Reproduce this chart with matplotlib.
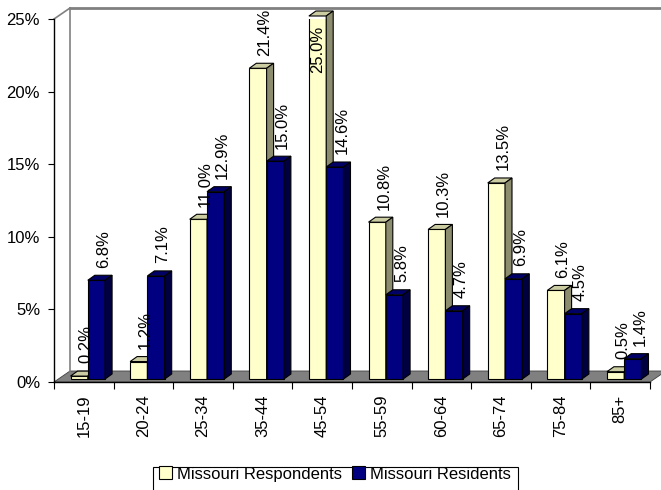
import matplotlib
matplotlib.use("Agg")
import matplotlib.pyplot as plt
from matplotlib.patches import Polygon, Rectangle, Patch

plt.rcParams['font.family'] = ['Liberation Sans', 'DejaVu Sans']

# data (percent)
age_groups = ['15-19', '20-24', '25-34', '35-44', '45-54',
              '55-59', '60-64', '65-74', '75-84', '85+']
respondents = [0.2, 1.2, 11.0, 21.4, 25.0, 10.8, 10.3, 13.5, 6.1, 0.5]
residents = [6.8, 7.1, 12.9, 15.0, 14.6, 5.8, 4.7, 6.9, 4.5, 1.4]

W, H = 661, 490
fig = plt.figure(figsize=(W / 100, H / 100), dpi=100)
# plot frame in pixels: x 54..650, y 382 (0%) .. 19 (25%)
ax = fig.add_axes([54 / W, (H - 382) / H, 596 / W, 363 / H])
ax.set_xlim(-0.5, 9.5)
ax.set_ylim(0, 25)

px_x = 596 / 10.0   # pixels per category
px_y = 363 / 25.0   # pixels per percent

# 3d depth of the walls / floor
wdx, wdy = 16 / px_x, 11 / px_y
# bars sit mid-depth
sx, sy = 4 / px_x, 3 / px_y
bdx, bdy = 7 / px_x, 5 / px_y
bw = 0.29

wall = '#808080'
# floor
ax.add_patch(Polygon([(-0.5, 0), (9.5, 0), (9.5 + wdx, wdy), (-0.5 + wdx, wdy)],
                     closed=True, facecolor=wall, edgecolor='#404040', lw=0.6,
                     clip_on=False, zorder=1))
# back / side wall outline
ax.plot([-0.5 + wdx, -0.5 + wdx], [wdy, 25 + wdy], color=wall, lw=1.2, clip_on=False, zorder=1)
ax.plot([-0.5, -0.5 + wdx], [25, 25 + wdy], color=wall, lw=1.2, clip_on=False, zorder=1)
ax.plot([-0.5 + wdx, 9.5 + wdx], [25 + wdy, 25 + wdy], color=wall, lw=2, clip_on=False, zorder=1)

styles = [('#FFFFCC', '#CCCCA3', '#8C8C6E'), ('#000080', '#000066', '#000040')]

for i in range(len(age_groups)):
    for k, vals in enumerate([respondents, residents]):
        front, top, side = styles[k]
        h = vals[i]
        x0 = i + (k - 1) * bw + sx
        x1 = x0 + bw
        ax.bar(x0, h, width=bw, bottom=sy, align='edge', color=front,
               edgecolor='black', lw=0.8, zorder=3)
        ax.add_patch(Polygon([(x0, h + sy), (x1, h + sy), (x1 + bdx, h + sy + bdy),
                              (x0 + bdx, h + sy + bdy)], closed=True, facecolor=top,
                             edgecolor='black', lw=0.8, zorder=3, clip_on=False))
        ax.add_patch(Polygon([(x1, sy), (x1 + bdx, sy + bdy), (x1 + bdx, h + sy + bdy),
                              (x1, h + sy)], closed=True, facecolor=side,
                             edgecolor='black', lw=0.8, zorder=3, clip_on=False))
        label = '%.1f%%' % h
        if h + 3.8 > 25 + wdy + 1.5:
            # no room above: put it inside the bar
            ax.annotate(label, (x0 + bw / 2, h + sy), xytext=(0, -7),
                        textcoords='offset points', rotation=90, ha='center',
                        va='top', fontsize=12, zorder=5, annotation_clip=False)
        else:
            ax.annotate(label, ((x0 + x1 + bdx) / 2, h + sy + bdy), xytext=(2.5, 5.5),
                        textcoords='offset points', rotation=90, ha='center',
                        va='bottom', fontsize=12, zorder=5, annotation_clip=False)

for s in ['top', 'right']:
    ax.spines[s].set_visible(False)
ax.spines['left'].set_linewidth(1.0)
ax.spines['bottom'].set_linewidth(1.0)
ax.spines['left'].set_zorder(2)
ax.spines['bottom'].set_zorder(2)

ax.set_yticks(range(0, 26, 5))
ax.set_yticklabels(['%d%%' % v for v in range(0, 26, 5)], fontsize=12)
ax.tick_params(axis='y', length=4, pad=6)

ax.set_xticks([i - 0.5 for i in range(11)])
ax.set_xticklabels([])
ax.set_xticks(range(len(age_groups)), minor=True)
ax.set_xticklabels(age_groups, minor=True, rotation=90, fontsize=12)
ax.tick_params(axis='x', which='major', length=5)
ax.tick_params(axis='x', which='minor', length=0, pad=9)

# legend with a box cut off by the bottom edge
fig.add_artist(Rectangle((153 / W, -0.05), (518 - 153) / W, (H - 467) / H + 0.05,
                         transform=fig.transFigure, facecolor='white',
                         edgecolor='black', lw=0.8))
handles = [Patch(facecolor=styles[0][0], edgecolor='black', lw=0.8),
           Patch(facecolor=styles[1][0], edgecolor='black', lw=0.8)]
fig.legend(handles, ['Missouri Respondents', 'Missouri Residents'], ncol=2,
           loc='center', bbox_to_anchor=(335 / W, (H - 474) / H), frameon=False,
           fontsize=12, handlelength=0.8, handleheight=0.8, handletextpad=0.3,
           columnspacing=0.6, borderpad=0)

fig.savefig('out.png', dpi=100)
